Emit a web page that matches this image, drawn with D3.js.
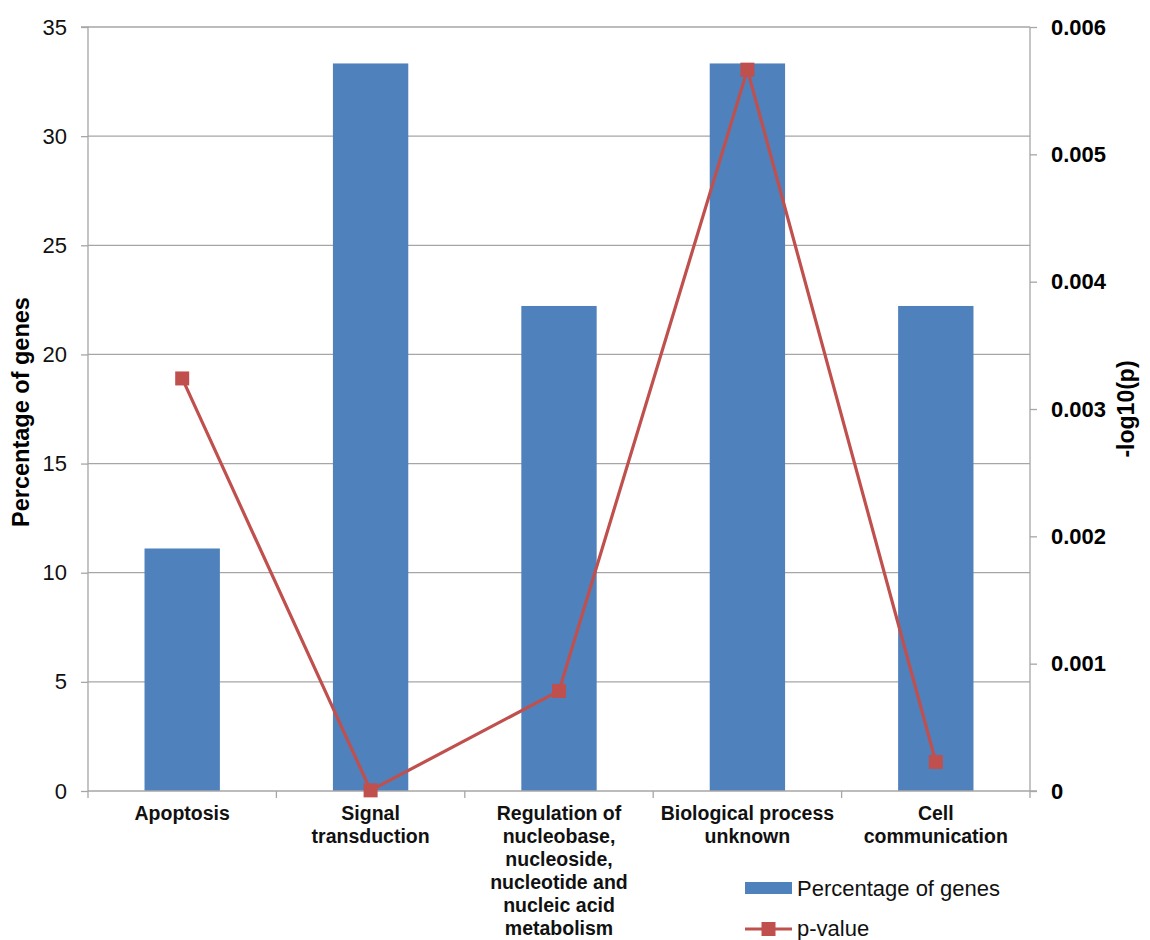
<!DOCTYPE html>
<html>
<head>
<meta charset="utf-8">
<script src="https://cdn.jsdelivr.net/npm/d3@7"></script>
<style>
  html, body { margin: 0; padding: 0; background: #fff; }
  svg { display: block; font-family: "Liberation Sans", Arial, sans-serif; }
</style>
</head>
<body>
<svg id="chart" width="1150" height="940"></svg>
<script>
// ---- data ----
const categories = [
  ["Apoptosis"],
  ["Signal", "transduction"],
  ["Regulation of", "nucleobase,", "nucleoside,", "nucleotide and", "nucleic acid", "metabolism"],
  ["Biological process", "unknown"],
  ["Cell", "communication"]
];
const categoryKeys = ["Apoptosis", "Signal transduction", "Regulation", "Biological process unknown", "Cell communication"];
const percentageOfGenes = [11.11, 33.33, 22.22, 33.33, 22.22];
const pValues = [0.00324, 0.000005, 0.000786, 0.005665, 0.000228];
const leftTicks = [0, 5, 10, 15, 20, 25, 30, 35];
const rightTicks = [0, 0.001, 0.002, 0.003, 0.004, 0.005, 0.006];
const seriesNames = ["Percentage of genes", "p-value"];

// ---- layout ----
const svg = d3.select("#chart");
const L = 88, R = 1030, T = 27, B = 791;
const barColor = "#4F81BD", lineColor = "#C0504D", gridColor = "#A6A6A6";

const x = d3.scaleBand().domain(categoryKeys).range([L, R]).paddingInner(0).paddingOuter(0);
const yL = d3.scaleLinear().domain([0, 35]).range([B, T]);
const yR = d3.scaleLinear().domain([0, 0.006]).range([B, T]);

// gridlines
svg.append("g").selectAll("line").data(leftTicks.filter(d => d > 0)).join("line")
  .attr("x1", L).attr("x2", R)
  .attr("y1", d => yL(d)).attr("y2", d => yL(d))
  .attr("stroke", gridColor).attr("stroke-width", 1.3);

// bars
const bw = x.bandwidth() * 0.4;
svg.append("g").selectAll("rect").data(percentageOfGenes).join("rect")
  .attr("x", (d, i) => x(categoryKeys[i]) + (x.bandwidth() - bw) / 2)
  .attr("width", bw)
  .attr("y", d => yL(d))
  .attr("height", d => B - yL(d))
  .attr("fill", barColor);

// left axis
const gL = svg.append("g").attr("transform", `translate(${L},0)`)
  .call(d3.axisLeft(yL).tickValues(leftTicks).tickSize(7).tickPadding(14).tickFormat(d3.format("d")));
gL.select(".domain").attr("stroke", gridColor).attr("stroke-width", 1.3).attr("d", `M-7,${T}H0V${B}`);
gL.selectAll(".tick line").attr("stroke", gridColor).attr("stroke-width", 1.3);
gL.selectAll(".tick text").attr("font-size", 22).attr("fill", "#111").attr("font-family", "Liberation Sans, Arial, sans-serif");

// right axis
const gR = svg.append("g").attr("transform", `translate(${R},0)`)
  .call(d3.axisRight(yR).tickValues(rightTicks).tickSize(7).tickPadding(14)
    .tickFormat(d => d === 0 ? "0" : d3.format(".3f")(d)));
gR.select(".domain").attr("stroke", gridColor).attr("stroke-width", 1.3).attr("d", `M0,${T}V${B}`);
gR.selectAll(".tick line").attr("stroke", gridColor).attr("stroke-width", 1.3);
gR.selectAll(".tick text").attr("font-size", 22).attr("font-weight", "bold").attr("fill", "#000").attr("font-family", "Liberation Sans, Arial, sans-serif");

// bottom axis (category boundaries)
const gB = svg.append("g").attr("transform", `translate(0,${B})`);
gB.append("line").attr("x1", L).attr("x2", R + 7).attr("y1", 0).attr("y2", 0)
  .attr("stroke", gridColor).attr("stroke-width", 1.3);
const boundaries = categoryKeys.map(k => x(k)).concat([R]);
gB.selectAll("line.tk").data(boundaries).join("line").attr("class", "tk")
  .attr("x1", d => d).attr("x2", d => d).attr("y1", 0).attr("y2", 7)
  .attr("stroke", gridColor).attr("stroke-width", 1.3);

// category labels
const lab = svg.append("g").attr("font-size", 19.5).attr("font-weight", "bold").attr("text-anchor", "middle").attr("fill", "#111");
categories.forEach((lines, i) => {
  const cx = x(categoryKeys[i]) + x.bandwidth() / 2;
  const t = lab.append("text").attr("x", cx).attr("y", 820);
  lines.forEach((ln, j) => {
    t.append("tspan").attr("x", cx).attr("dy", j === 0 ? 0 : 23).text(ln);
  });
});

// line series
const lineGen = d3.line()
  .x((d, i) => x(categoryKeys[i]) + x.bandwidth() / 2)
  .y(d => yR(d));
svg.append("path").datum(pValues).attr("d", lineGen)
  .attr("fill", "none").attr("stroke", lineColor).attr("stroke-width", 3.2).attr("stroke-linejoin", "round");
const ms = 14;
svg.append("g").selectAll("rect").data(pValues).join("rect")
  .attr("x", (d, i) => x(categoryKeys[i]) + x.bandwidth() / 2 - ms / 2)
  .attr("y", d => yR(d) - ms / 2)
  .attr("width", ms).attr("height", ms)
  .attr("fill", lineColor);

// axis titles
svg.append("text").attr("transform", `translate(29,412) rotate(-90)`)
  .attr("text-anchor", "middle").attr("font-size", 23.5).attr("font-weight", "bold").attr("fill", "#000")
  .text("Percentage of genes");
svg.append("text").attr("transform", `translate(1134,409) rotate(-90)`)
  .attr("text-anchor", "middle").attr("font-size", 23).attr("font-weight", "bold").attr("fill", "#000")
  .text("-log10(p)");

// legend
const lg = svg.append("g");
lg.append("rect").attr("x", 745).attr("y", 882).attr("width", 47).attr("height", 12).attr("fill", barColor);
lg.append("text").attr("x", 797).attr("y", 888).attr("dominant-baseline", "central")
  .attr("font-size", 22).attr("fill", "#111").text(seriesNames[0]);
lg.append("line").attr("x1", 745).attr("x2", 792).attr("y1", 929).attr("y2", 929)
  .attr("stroke", lineColor).attr("stroke-width", 3.2);
lg.append("rect").attr("x", 768.5 - ms / 2).attr("y", 929 - ms / 2).attr("width", ms).attr("height", ms).attr("fill", lineColor);
lg.append("text").attr("x", 797).attr("y", 928).attr("dominant-baseline", "central")
  .attr("font-size", 22).attr("fill", "#111").text(seriesNames[1]);
</script>
</body>
</html>
